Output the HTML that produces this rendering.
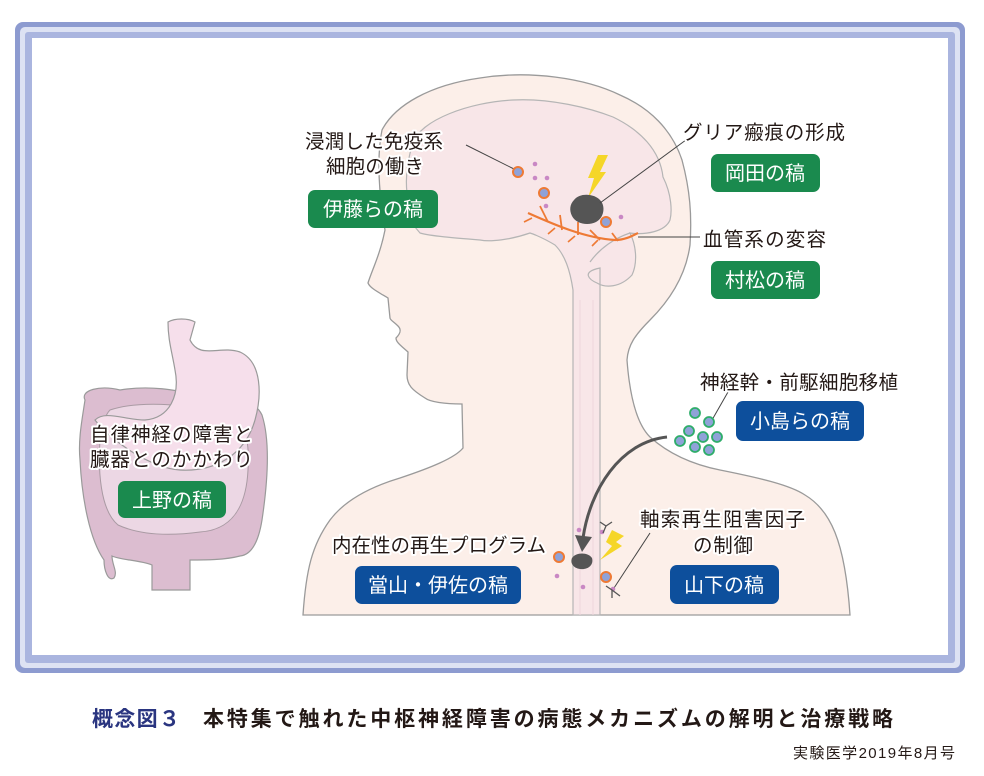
<!DOCTYPE html>
<html><head><meta charset="utf-8"><style>
html,body{margin:0;padding:0;background:#fff;}
svg{display:block;}
text{font-family:"Liberation Sans","Noto Sans CJK JP",sans-serif;}
</style></head><body>
<svg width="984" height="776" viewBox="0 0 984 776" xmlns="http://www.w3.org/2000/svg">
<!-- frame -->
<rect x="15" y="22" width="950" height="651" rx="8" fill="#8d9bd0"/>
<rect x="20" y="27" width="940" height="641" rx="5" fill="#dde2f3"/>
<rect x="25" y="32" width="930" height="631" rx="3" fill="#aab5df"/>
<rect x="32" y="38" width="916" height="617" fill="#fff"/>

<!-- body -->
<path d="M303,615 C306,570 312,545 330,520 C345,500 370,487 400,478 C430,468 455,458 463,448 L462,404 C445,404 430,402 425,398 C412,390 407,385 407,375 L408,352 C400,345 396,342 396,338 C400,334 402,330 398,326 C394,322 390,320 390,318 L388,298 C378,292 370,288 368,283 C372,270 380,255 385,230 C380,200 376,160 382,130 C395,105 430,85 480,78 C530,70 585,78 620,95 C650,108 672,130 682,160 C690,190 692,215 690,245 C686,275 670,300 650,320 C635,335 628,345 627,360 C630,400 638,425 650,437 C670,455 695,465 720,470 C760,478 790,485 805,495 C830,510 845,540 850,615 Z" fill="#fcefe9" stroke="#9a9a9a" stroke-width="1.3"/>
<!-- brain -->
<path d="M413,143 C420,120 470,102 513,100 C550,98 590,108 613,117 C640,130 660,150 663,177 C672,195 672,212 670,220 C665,232 645,235 630,233 C636,245 638,262 632,275 C620,288 605,288 597,283 C590,280 580,272 600,268 L600,615 L573,615 L573,290 C570,270 565,255 555,245 C540,236 530,233 530,233 C510,240 490,242 480,240 C455,238 430,236 420,233 C408,220 404,205 407,193 C405,175 408,158 413,143 Z" fill="#f8e6e8" stroke="#b5b5b5" stroke-width="1.2"/>
<path d="M630,233 C615,238 600,248 590,262" fill="none" stroke="#b5b5b5" stroke-width="1.2"/>
<path d="M580,615 L580,300 M593,615 L593,300" stroke="#eed6dc" stroke-width="1" fill="none"/>

<!-- vessel -->
<path d="M528,213 C555,225 585,238 615,240 C625,240 632,236 638,233" fill="none" stroke="#ee7a35" stroke-width="2.2"/>
<path d="M540,206 L548,222 M560,215 L562,230 M578,222 L578,235 M590,230 L600,240 M612,233 L618,241" stroke="#ee7a35" stroke-width="1.8" fill="none"/>
<path d="M532,218 L524,222 M555,228 L548,234 M575,236 L568,242 M598,240 L592,246" stroke="#ee7a35" stroke-width="1.6" fill="none"/>

<!-- lightning -->
<path d="M598,155 L608,155 L600,172 L606,172 L588,198 L594,178 L588,178 Z" fill="#f5d628"/>
<path d="M612,530 L624,536 L616,542 L622,546 L600,560 L612,546 L606,542 Z" fill="#f5d628"/>
<!-- scar -->
<path d="M574,200 C580,192 595,194 600,200 C606,206 604,218 596,222 C588,226 576,224 572,216 C569,210 570,204 574,200 Z" fill="#555"/>
<path d="M572,558 C576,552 588,552 592,558 C594,565 588,570 580,569 C573,568 570,563 572,558 Z" fill="#555"/>

<!-- leaders -->
<g stroke="#444" stroke-width="1" fill="none">
<line x1="466" y1="145" x2="514" y2="169"/>
<line x1="690" y1="137" x2="600" y2="203"/>
<line x1="638" y1="237" x2="700" y2="237"/>
<line x1="728" y1="392" x2="712" y2="420"/>
<line x1="650" y1="533" x2="614" y2="588"/>
</g>

<!-- orange cells -->
<g fill="#8fa2d8" stroke="#ee7a35" stroke-width="2">
<circle cx="518" cy="172" r="5"/><circle cx="544" cy="193" r="5"/><circle cx="606" cy="222" r="5"/><circle cx="559" cy="557" r="5"/><circle cx="606" cy="577" r="5"/>
</g>
<g fill="#c988c4">
<circle cx="535" cy="164" r="2.3"/><circle cx="535" cy="178" r="2.3"/><circle cx="547" cy="178" r="2.3"/><circle cx="546" cy="206" r="2.3"/><circle cx="621" cy="217" r="2.3"/>
<circle cx="579" cy="530" r="2.3"/><circle cx="557" cy="576" r="2.3"/><circle cx="583" cy="587" r="2.3"/><circle cx="602" cy="532" r="2.3"/><circle cx="613" cy="589" r="2.3"/>
</g>
<g stroke="#555" stroke-width="1.3" fill="none">
<path d="M603,533 L606,526 L600,522 M606,526 L612,522"/>
<path d="M612,590 L612,598 M612,590 L620,596 M612,590 L606,586"/>
</g>
<!-- green cells -->
<g fill="#8fa2d8" stroke="#2fad6a" stroke-width="1.8">
<circle cx="695" cy="413" r="5"/><circle cx="709" cy="422" r="5"/><circle cx="689" cy="431" r="5"/><circle cx="703" cy="437" r="5"/><circle cx="717" cy="437" r="5"/><circle cx="680" cy="441" r="5"/><circle cx="695" cy="447" r="5"/><circle cx="709" cy="450" r="5"/>
</g>
<!-- arrow -->
<path d="M667,437 C620,442 590,490 583,538" fill="none" stroke="#555" stroke-width="3"/>
<path d="M575,535 L592,537 L582,552 Z" fill="#555"/>

<!-- gut -->
<path d="M85,400 C80,390 100,385 120,390 C150,385 175,390 200,395 C230,392 255,400 262,415 C270,440 268,480 262,520 C258,545 250,555 240,556 C225,560 205,560 190,560 L190,590 L152,590 L152,565 C140,560 120,560 112,556 C112,565 118,572 114,578 C108,582 104,570 104,560 C90,540 82,500 80,460 C78,440 82,420 85,400 Z" fill="#dcbdd0" stroke="#9a9a9a" stroke-width="1.2"/>
<path d="M110,410 C140,400 180,405 220,410 C245,415 250,440 248,470 C246,510 230,530 200,532 C170,536 140,535 118,525 C100,510 98,470 100,440 C102,425 105,415 110,410 Z" fill="#ecd7e4" stroke="#a99aa3" stroke-width="1"/>
<path d="M168,322 C175,318 188,318 195,322 L190,340 C200,360 220,345 240,352 C262,362 262,395 255,420 C245,455 215,472 180,470 C150,468 110,440 95,420 C105,410 125,420 145,420 C170,418 180,395 175,370 C172,352 168,340 168,322 Z" fill="#f6dfeb" stroke="#9a9a9a" stroke-width="1.2"/>

<!-- labels -->
<g font-size="19.5" fill="#231815" stroke="#fff" stroke-width="4" paint-order="stroke" stroke-linejoin="round">
<text x="305" y="148" textLength="138">浸潤した免疫系</text>
<text x="326" y="173" textLength="98">細胞の働き</text>
<text x="683" y="139" textLength="162">グリア瘢痕の形成</text>
<text x="703" y="246" textLength="123">血管系の変容</text>
<text x="700" y="389" textLength="198">神経幹・前駆細胞移植</text>
<text x="90" y="441" textLength="163">自律神経の障害と</text>
<text x="90" y="466" textLength="163">臓器とのかかわり</text>
<text x="332" y="552" textLength="214">内在性の再生プログラム</text>
<text x="640" y="526" textLength="165">軸索再生阻害因子</text>
<text x="693" y="552" textLength="60">の制御</text>
</g>
<g font-size="20" fill="#fff" text-anchor="middle">
<rect x="308" y="190" width="130" height="38" rx="7" fill="#1a8a4e"/><text x="373" y="216">伊藤らの稿</text>
<rect x="711" y="154" width="109" height="38" rx="7" fill="#1a8a4e"/><text x="765" y="180">岡田の稿</text>
<rect x="711" y="261" width="109" height="38" rx="7" fill="#1a8a4e"/><text x="765" y="287">村松の稿</text>
<rect x="118" y="481" width="108" height="37" rx="7" fill="#1a8a4e"/><text x="172" y="507">上野の稿</text>
<rect x="736" y="401" width="128" height="40" rx="7" fill="#0d4f9c"/><text x="800" y="428">小島らの稿</text>
<rect x="355" y="566" width="166" height="38" rx="7" fill="#0d4f9c"/><text x="438" y="592">當山・伊佐の稿</text>
<rect x="670" y="565" width="109" height="39" rx="7" fill="#0d4f9c"/><text x="724" y="592">山下の稿</text>
</g>
<!-- caption -->
<text x="92" y="726" font-size="21" font-weight="bold" fill="#2a3580" textLength="88">概念図３</text>
<text x="203" y="726" font-size="21" font-weight="bold" fill="#231815" textLength="690">本特集で触れた中枢神経障害の病態メカニズムの解明と治療戦略</text>
<text x="793" y="758" font-size="15" fill="#231815" textLength="162">実験医学2019年8月号</text>
</svg>
</body></html>
